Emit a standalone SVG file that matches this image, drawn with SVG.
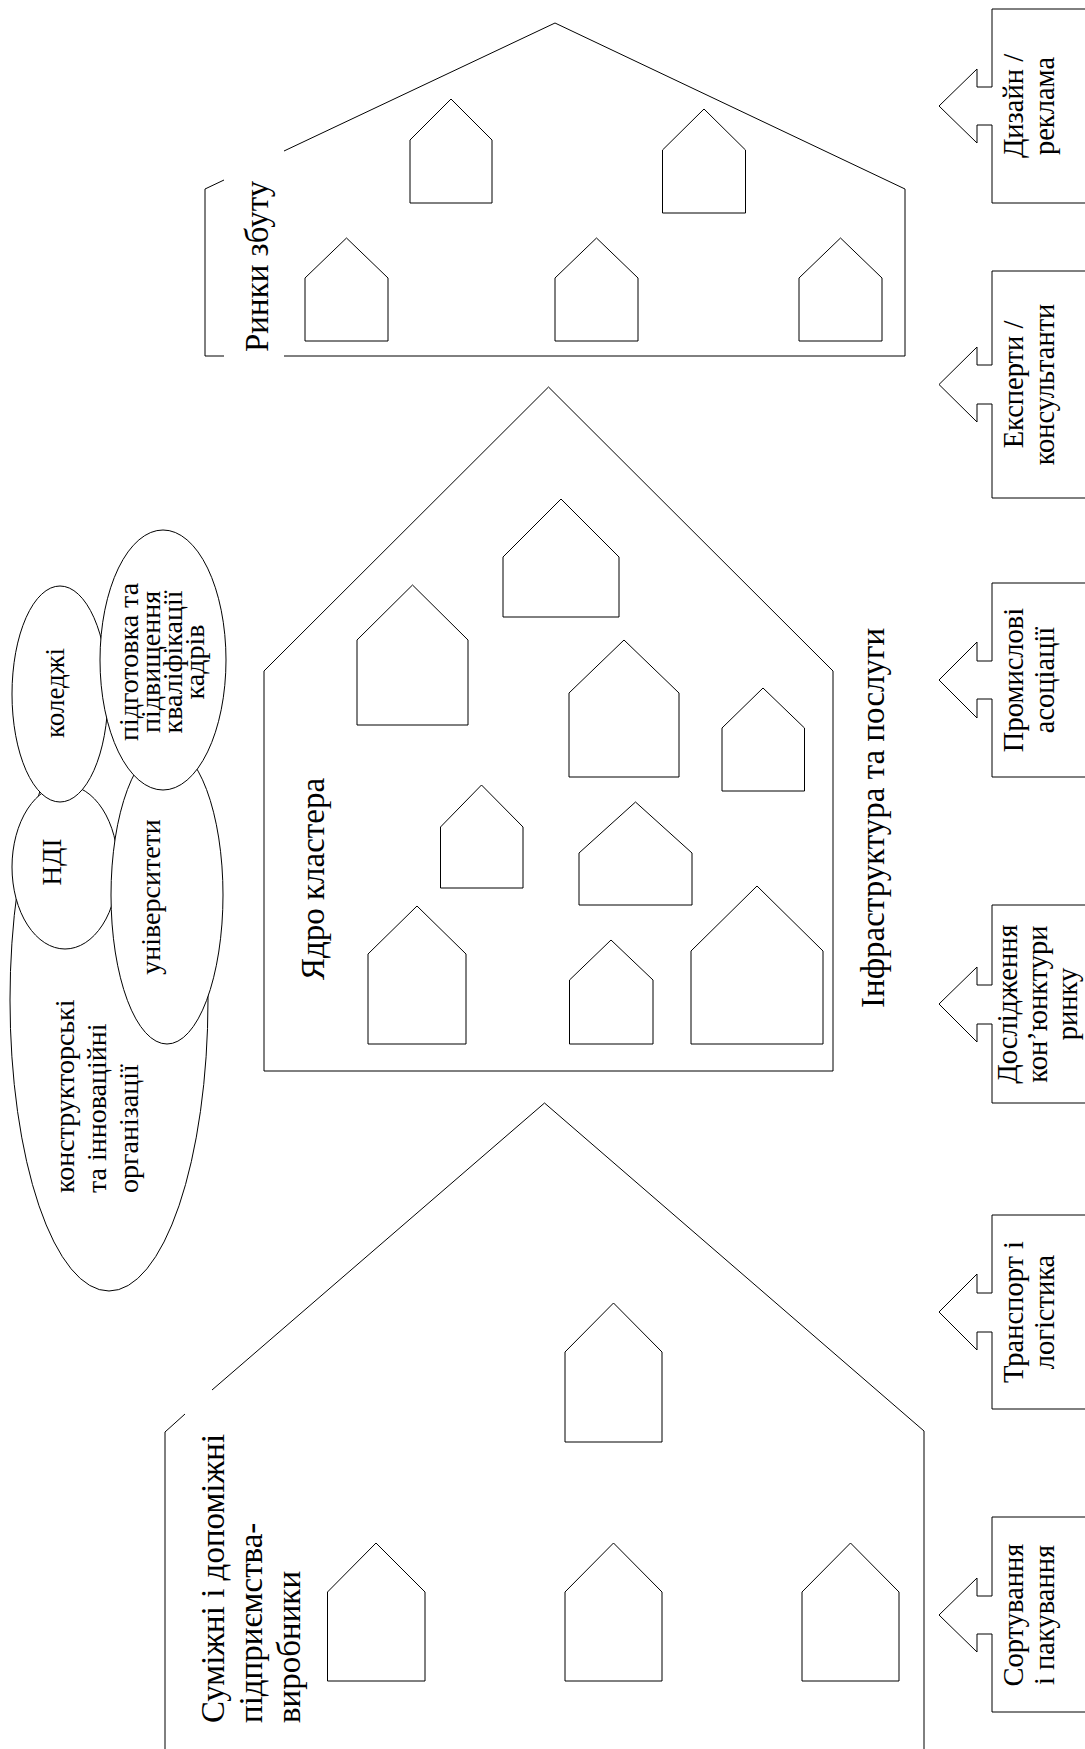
<svg xmlns="http://www.w3.org/2000/svg" width="1085" height="1749" viewBox="0 0 1085 1749">
<style>
  .ln { fill: none; stroke: #000; stroke-width: 1; }
  .hs { fill: #fff; stroke: #000; stroke-width: 1; }
  .el { fill: #fff; stroke: #000; stroke-width: 1; }
  .co { fill: #fff; stroke: #000; stroke-width: 1; }
  text { font-family: "Liberation Serif", "Times New Roman", serif; fill: #000; }
  .ttl { font-size: 33px; }
  .sm { font-size: 28px; }
  .cl { font-size: 28.5px; }
  .el27 { font-size: 27px; }
  .el26 { font-size: 28px; }
</style>
<rect width="1085" height="1749" fill="#fff"/>

<g id="connectors"></g>

<!-- Markets house -->
<g id="node-markets">
  <path class="ln" d="M224,180 L205,189 L205,356 L224,356"/>
  <path class="ln" d="M284,151 L555,23 L905,189 L905,356 L284,356"/>
  <polygon class="hs" points="410,203 410,140 451,99 492,140 492,203"/>
  <polygon class="hs" points="305,341 305,278 346.5,238 388,278 388,341"/>
  <polygon class="hs" points="662.5,213 662.5,150 704,109 745.5,150 745.5,213"/>
  <polygon class="hs" points="555,341 555,278 596.5,238 638,278 638,341"/>
  <polygon class="hs" points="799,341 799,278 840.5,238 882,278 882,341"/>
  <text class="ttl" transform="translate(268,352) rotate(-90)">Ринки збуту</text>
</g>

<!-- Cluster core house -->
<g id="node-core">
  <path class="ln" d="M264,671 L548.5,387 L833,671 L833,1071 L264,1071 Z"/>
  <polygon class="hs" points="357,725 357,640 412.5,585 468,640 468,725"/>
  <polygon class="hs" points="503,617 503,557 561,499 619,557 619,617"/>
  <polygon class="hs" points="440.5,888 440.5,827 481.5,785 523,827 523,888"/>
  <polygon class="hs" points="569,777 569,693 624,640 679,693 679,777"/>
  <polygon class="hs" points="722,791 722,728 763,688 804.5,728 804.5,791"/>
  <polygon class="hs" points="579,905 579,853 635.5,802 692,853 692,905"/>
  <polygon class="hs" points="368,1044 368,954 417,906 466,954 466,1044"/>
  <polygon class="hs" points="569.5,1044 569.5,980 611,940 653,980 653,1044"/>
  <polygon class="hs" points="691,1044 691,951 757,886 823,951 823,1044"/>
  <text class="ttl" transform="translate(324,980) rotate(-90)">Ядро кластера</text>
</g>

<!-- Infrastructure label -->
<g id="node-infra-label">
  <text class="ttl" transform="translate(884,1008) rotate(-90)">Інфраструктура та послуги</text>
</g>

<!-- Related and supporting enterprises house -->
<g id="node-related">
  <path class="ln" d="M185,1414 L165,1432 L165,1749"/>
  <path class="ln" d="M212,1390 L544.5,1103 L924,1431 L924,1749"/>
  <polygon class="hs" points="327.5,1681 327.5,1592 376,1543 425,1592 425,1681"/>
  <polygon class="hs" points="565,1681 565,1592 613.5,1543 662,1592 662,1681"/>
  <polygon class="hs" points="802,1681 802,1592 850.5,1543 899,1592 899,1681"/>
  <polygon class="hs" points="565,1442 565,1352 613.5,1303 662,1352 662,1442"/>
  <text class="ttl" transform="translate(224,1723) rotate(-90)"><tspan x="0" y="0">Суміжні і допоміжні</tspan><tspan x="0" y="38">підприємства-</tspan><tspan x="0" y="76">виробники</tspan></text>
</g>

<!-- Ellipses: research and education -->
<g id="node-design-orgs">
  <ellipse class="el" cx="109" cy="1000" rx="99" ry="291"/>
  <text class="sm" transform="translate(74,1193) rotate(-90)"><tspan x="0" y="0">конструкторські</tspan><tspan x="0" y="32">та інноваційні</tspan><tspan x="0" y="64">організації</tspan></text>
</g>
<g id="node-ndi">
  <ellipse class="el" cx="65" cy="867" rx="53" ry="82"/>
  <text class="el27" text-anchor="middle" transform="translate(61,862) rotate(-90)">НДІ</text>
</g>
<g id="node-colleges">
  <ellipse class="el" cx="60" cy="694" rx="48" ry="108"/>
  <text class="el27" text-anchor="middle" transform="translate(64,693) rotate(-90)">коледжі</text>
</g>
<g id="node-universities">
  <ellipse class="el" cx="167" cy="895" rx="56" ry="149"/>
  <text class="sm" text-anchor="middle" transform="translate(160,897) rotate(-90)">університети</text>
</g>
<g id="node-training">
  <ellipse class="el" cx="163" cy="660" rx="63" ry="130"/>
  <text class="el26" text-anchor="middle" transform="translate(138,662) rotate(-90)"><tspan x="0" y="0">підготовка та</tspan><tspan x="0" y="22">підвищення</tspan><tspan x="0" y="44">кваліфікації</tspan><tspan x="0" y="66">кадрів</tspan></text>
</g>

<!-- Callouts -->
<g id="node-design-ads">
  <path class="co" d="M1090,9 L992,9 L992,87 L977,87 L977,69 L939,106 L977,143 L977,125 L992,125 L992,203 L1090,203"/>
  <text class="cl" text-anchor="middle" transform="translate(1023,106) rotate(-90)"><tspan x="0" y="0">Дизайн /</tspan><tspan x="0" y="31">реклама</tspan></text>
</g>
<g id="node-experts">
  <path class="co" d="M1090,271 L992,271 L992,365 L977,365 L977,347 L939,384.5 L977,422 L977,404 L992,404 L992,498 L1090,498"/>
  <text class="cl" text-anchor="middle" transform="translate(1023,384.5) rotate(-90)"><tspan x="0" y="0">Експерти /</tspan><tspan x="0" y="31">консультанти</tspan></text>
</g>
<g id="node-associations">
  <path class="co" d="M1090,583 L992,583 L992,661 L977,661 L977,642 L939,680 L977,718 L977,699 L992,699 L992,777 L1090,777"/>
  <text class="cl" text-anchor="middle" transform="translate(1023,680) rotate(-90)"><tspan x="0" y="0">Промислові</tspan><tspan x="0" y="31">асоціації</tspan></text>
</g>
<g id="node-market-research">
  <path class="co" d="M1090,905 L992,905 L992,985 L977,985 L977,967 L939,1004 L977,1042 L977,1024 L992,1024 L992,1103 L1090,1103"/>
  <text class="cl" text-anchor="middle" transform="translate(1017,1004) rotate(-90)"><tspan x="0" y="0">Дослідження</tspan><tspan x="0" y="30">кон’юнктури</tspan><tspan x="0" y="60">ринку</tspan></text>
</g>
<g id="node-transport">
  <path class="co" d="M1090,1215 L992,1215 L992,1293 L977,1293 L977,1274 L939,1312 L977,1350 L977,1332 L992,1332 L992,1409 L1090,1409"/>
  <text class="cl" text-anchor="middle" transform="translate(1023,1312) rotate(-90)"><tspan x="0" y="0">Транспорт і</tspan><tspan x="0" y="31">логістика</tspan></text>
</g>
<g id="node-sorting">
  <path class="co" d="M1090,1517 L992,1517 L992,1596 L977,1596 L977,1578 L939,1615 L977,1652 L977,1634 L992,1634 L992,1712 L1090,1712"/>
  <text class="cl" text-anchor="middle" transform="translate(1023,1615) rotate(-90)"><tspan x="0" y="0">Сортування</tspan><tspan x="0" y="31">і пакування</tspan></text>
</g>
</svg>
